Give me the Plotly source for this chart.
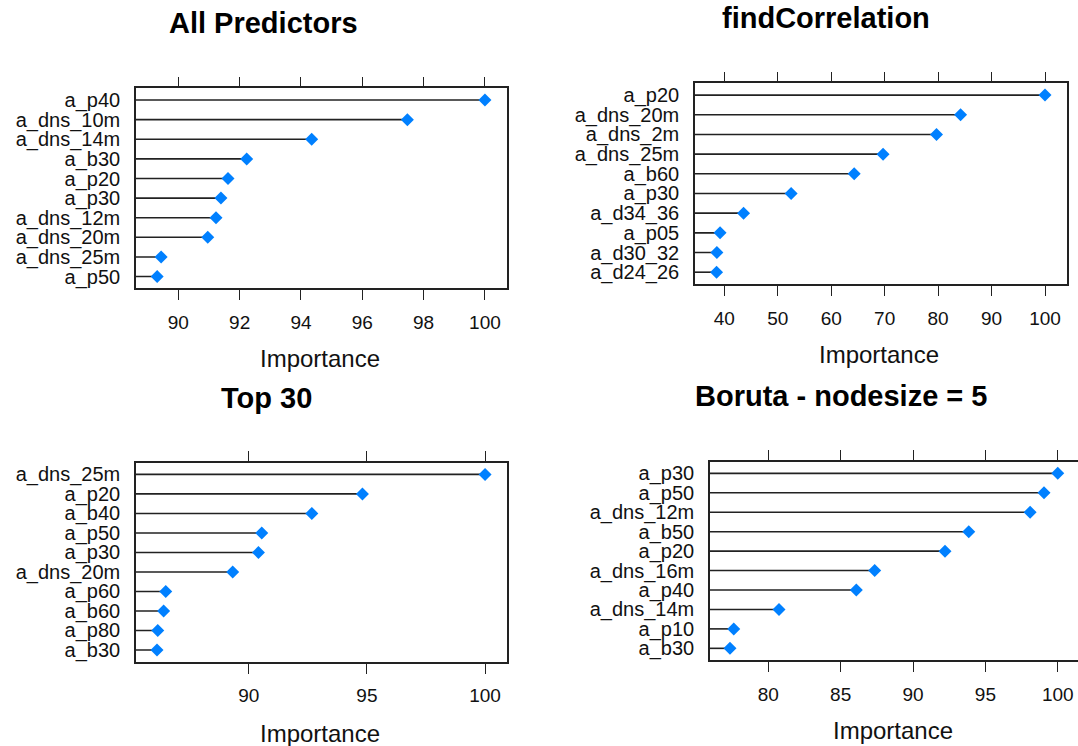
import plotly.graph_objects as go

W, H = 1078, 746

# Variable importance per selection method (rows listed top to bottom)
all_pred_vars = ["a_p40", "a_dns_10m", "a_dns_14m", "a_b30", "a_p20",
                 "a_p30", "a_dns_12m", "a_dns_20m", "a_dns_25m", "a_p50"]
all_pred_imp = [100.0, 97.47, 94.35, 92.23, 91.62, 91.39, 91.23, 90.96, 89.44, 89.31]

findcor_vars = ["a_p20", "a_dns_20m", "a_dns_2m", "a_dns_25m", "a_b60",
                "a_p30", "a_d34_36", "a_p05", "a_d30_32", "a_d24_26"]
findcor_imp = [100.0, 84.2, 79.7, 69.7, 64.3, 52.5, 43.6, 39.2, 38.6, 38.55]

top30_vars = ["a_dns_25m", "a_p20", "a_b40", "a_p50", "a_p30",
              "a_dns_20m", "a_p60", "a_b60", "a_p80", "a_b30"]
top30_imp = [100.0, 94.81, 92.67, 90.55, 90.41, 89.32, 86.49, 86.40, 86.15, 86.12]

boruta_vars = ["a_p30", "a_p50", "a_dns_12m", "a_b50", "a_p20",
               "a_dns_16m", "a_p40", "a_dns_14m", "a_p10", "a_b30"]
boruta_imp = [100.0, 99.05, 98.09, 93.85, 92.21, 87.35, 86.08, 80.74, 77.61, 77.35]

titles = ["All Predictors", "findCorrelation", "Top 30", "Boruta - nodesize = 5"]
tick_vals = [
    [90, 92, 94, 96, 98, 100],
    [40, 50, 60, 70, 80, 90, 100],
    [90, 95, 100],
    [80, 85, 90, 95, 100],
]

# panel layout in pixels: (left, right, top, bottom), x range
panels = [
    dict(box=(136, 507.3, 88.3, 288.3), xr=(88.62, 100.73), title=(263, 23), xt=(320, 358)),
    dict(box=(695, 1067.3, 83.3, 284.0), xr=(34.51, 104.17), title=(826, 18), xt=(879, 354)),
    dict(box=(136, 507.3, 462.7, 661.7), xr=(85.23, 100.94), title=(266, 398), xt=(320, 733)),
    dict(box=(710, 1078, 461.7, 660.0), xr=(75.97, 101.40), title=(841, 396), xt=(893, 730)),
]
data = [(all_pred_vars, all_pred_imp), (findcor_vars, findcor_imp),
        (top30_vars, top30_imp), (boruta_vars, boruta_imp)]

FONT = "Liberation Sans, Arial, sans-serif"
LINE = "#222222"
DOT = "#0080ff"

fig = go.Figure()
annotations = []
layout = {}

for i, (p, (names, vals)) in enumerate(zip(panels, data)):
    n = len(names)
    k = "" if i == 0 else str(i + 1)
    ys = list(range(n, 0, -1))
    lo = p["xr"][0]

    # stems from the left edge of the panel to each value
    sx, sy = [], []
    for v, y in zip(vals, ys):
        sx += [lo, v, None]
        sy += [y, y, None]
    fig.add_trace(go.Scatter(x=sx, y=sy, mode="lines",
                             line=dict(color=LINE, width=1.6),
                             xaxis="x" + k, yaxis="y" + k,
                             hoverinfo="skip", showlegend=False))
    fig.add_trace(go.Scatter(x=vals, y=ys, mode="markers",
                             marker=dict(symbol="diamond", size=10, color=DOT),
                             xaxis="x" + k, yaxis="y" + k,
                             text=names, showlegend=False))

    left, right, top, bottom = p["box"]
    layout["xaxis" + k] = dict(
        domain=[left / W, right / W], range=list(p["xr"]), anchor="y" + k,
        tickvals=tick_vals[i], ticks="outside", ticklen=10, tickwidth=1.3,
        tickcolor=LINE, showline=True, linecolor=LINE, linewidth=1.6,
        mirror="ticks", showgrid=False, zeroline=False,
        ticklabelstandoff=6,
        tickfont=dict(family=FONT, size=19, color="#111111"),
    )
    layout["yaxis" + k] = dict(
        domain=[1 - bottom / H, 1 - top / H], range=[0.4, n + 0.6],
        anchor="x" + k, tickvals=ys, ticktext=names, ticks="",
        showline=True, linecolor=LINE, linewidth=1.6,
        mirror=(i != 3), showgrid=False, zeroline=False,
        ticklabelstandoff=10,
        tickfont=dict(family=FONT, size=20, color="#111111"),
    )

    tx, ty = p["title"]
    annotations.append(dict(text="<b>" + titles[i] + "</b>", x=tx / W, y=1 - ty / H,
                            xref="paper", yref="paper", xanchor="center", yanchor="middle",
                            showarrow=False, font=dict(family=FONT, size=29, color="#000000")))
    ax, ay = p["xt"]
    annotations.append(dict(text="Importance", x=ax / W, y=1 - ay / H,
                            xref="paper", yref="paper", xanchor="center", yanchor="middle",
                            showarrow=False, font=dict(family=FONT, size=24, color="#111111")))

fig.update_layout(
    width=W, height=H,
    margin=dict(l=0, r=0, t=0, b=0),
    paper_bgcolor="white", plot_bgcolor="white",
    annotations=annotations,
    **layout,
)

fig.write_html("out.html")
